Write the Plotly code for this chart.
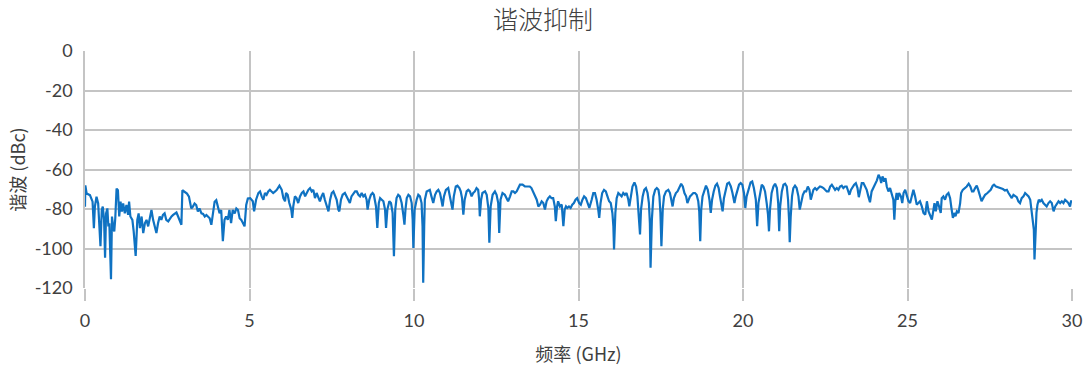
import plotly.graph_objects as go

# Frequency (GHz) and harmonic level (dBc)
freq_0_5 = [0.00, 0.01, 0.05, 0.15, 0.23, 0.27, 0.30, 0.35, 0.40, 0.47, 0.51, 0.54, 0.58, 0.61, 0.64, 0.68, 0.71, 0.74, 0.79, 0.82,
            0.86, 0.89, 0.92, 0.96, 1.00, 1.04, 1.08, 1.12, 1.16, 1.21, 1.26, 1.31, 1.34, 1.38, 1.44, 1.48, 1.54, 1.59, 1.63, 1.67,
            1.72, 1.77, 1.82, 1.87, 1.92, 1.97, 2.02, 2.07, 2.12, 2.17, 2.22, 2.27, 2.32, 2.37, 2.42, 2.47, 2.53, 2.58, 2.63, 2.68,
            2.73, 2.78, 2.83, 2.88, 2.93, 2.96, 3.03, 3.10, 3.16, 3.23, 3.28, 3.33, 3.38, 3.43, 3.48, 3.54, 3.59, 3.64, 3.69, 3.74,
            3.79, 3.84, 3.89, 3.94, 3.99, 4.04, 4.09, 4.14, 4.19, 4.24, 4.29, 4.34, 4.39, 4.44, 4.49, 4.55, 4.60, 4.65, 4.70, 4.75,
            4.80, 4.85, 4.90, 4.95]
level_0_5 = [-78.8, -68.0, -72.2, -73.0, -76.3, -89.7, -78.8, -73.8, -77.2, -98.8, -80.5, -78.8, -85.5, -104.7, -82.2, -79.7, -88.8, -87.2, -115.5, -83.8,
             -89.7, -91.3, -84.7, -69.7, -70.5, -83.8, -76.3, -81.3, -77.2, -82.2, -78.0, -83.0, -76.3, -83.8, -85.5, -91.3, -103.8, -85.5, -82.2, -89.7,
             -83.8, -92.2, -87.2, -85.5, -88.8, -83.8, -80.5, -85.5, -88.8, -92.2, -87.2, -83.8, -85.5, -83.0, -82.2, -85.5, -86.3, -84.7, -83.8, -83.0,
             -82.2, -81.8, -83.8, -85.5, -88.0, -70.5, -71.3, -72.2, -73.8, -79.7, -78.8, -77.2, -78.0, -81.3, -79.7, -82.2, -82.5, -83.8, -83.0, -83.8,
             -84.7, -88.0, -82.2, -76.3, -75.5, -78.8, -82.2, -80.5, -96.3, -85.5, -83.8, -85.5, -80.5, -87.2, -80.5, -82.2, -79.7, -80.5, -84.7, -85.5,
             -87.2, -88.8, -78.0, -74.7]

freq_5_10 = [5.02, 5.10, 5.14, 5.20, 5.27, 5.32, 5.37, 5.42, 5.47, 5.52, 5.57, 5.62, 5.67, 5.72, 5.78, 5.83, 5.91, 5.98, 6.03, 6.08,
             6.11, 6.16, 6.21, 6.27, 6.30, 6.33, 6.38, 6.43, 6.48, 6.535, 6.59, 6.64, 6.69, 6.74, 6.79, 6.84, 6.89, 6.94, 6.99, 7.04,
             7.09, 7.14, 7.19, 7.24, 7.29, 7.35, 7.40, 7.45, 7.50, 7.55, 7.60, 7.65, 7.70, 7.73, 7.78, 7.83, 7.90, 7.95, 8.00, 8.05,
             8.10, 8.16, 8.21, 8.26, 8.31, 8.36, 8.41, 8.46, 8.51, 8.56, 8.59, 8.64, 8.69, 8.74, 8.78, 8.845, 8.885, 8.93, 8.97, 9.02,
             9.07, 9.12, 9.15, 9.19, 9.25, 9.30, 9.35, 9.39, 9.43, 9.47, 9.52, 9.57, 9.625, 9.675, 9.71, 9.74, 9.78, 9.83, 9.88, 9.93,
             9.96, 9.98, 10.02, 10.08, 10.13, 10.18, 10.23, 10.26, 10.28, 10.31, 10.33, 10.385, 10.435]
level_5_10 = [-74.5, -76.1, -81.2, -75.3, -71.9, -71.1, -73.6, -75.3, -71.9, -72.8, -71.1, -70.3, -71.1, -71.9, -71.1, -70.3, -68.2, -70.3, -74.5, -76.1,
              -71.9, -72.8, -77.0, -80.3, -84.5, -78.7, -73.6, -74.5, -77.0, -73.6, -71.9, -71.1, -73.6, -71.9, -70.3, -69.4, -71.1, -70.3, -74.5, -71.9,
              -73.6, -76.1, -73.6, -71.9, -75.3, -78.7, -81.2, -75.3, -71.9, -71.1, -72.8, -75.3, -80.3, -81.2, -75.3, -72.8, -71.9, -73.6, -76.1, -77.0,
              -73.6, -71.9, -71.1, -71.1, -72.8, -73.6, -71.9, -73.6, -72.8, -75.3, -80.3, -75.3, -72.8, -71.9, -72.8, -78.7, -89.6, -77.0, -74.5, -75.3,
              -76.1, -80.3, -89.6, -80.3, -76.1, -77.0, -82.0, -103.9, -80.3, -74.5, -72.8, -73.6, -77.0, -82.9, -87.9, -80.3, -74.5, -72.8, -73.6, -77.0,
              -85.4, -99.7, -80.3, -75.3, -72.8, -73.6, -77.0, -88.7, -117.3, -88.7, -75.3, -71.1, -70.6]

freq_10_15 = [10.48, 10.53, 10.585, 10.64, 10.69, 10.74, 10.79, 10.84, 10.87, 10.91, 10.97, 11.04, 11.09, 11.14, 11.17, 11.21, 11.27, 11.32, 11.38, 11.42,
              11.46, 11.50, 11.54, 11.60, 11.65, 11.70, 11.75, 11.80, 11.85, 11.90, 11.95, 11.98, 12.00, 12.04, 12.08, 12.16, 12.21, 12.26, 12.29, 12.33,
              12.39, 12.46, 12.51, 12.56, 12.59, 12.63, 12.69, 12.76, 12.81, 12.86, 12.92, 12.97, 13.02, 13.07, 13.12, 13.17, 13.22, 13.30, 13.37, 13.44,
              13.52, 13.57, 13.62, 13.68, 13.73, 13.78, 13.83, 13.88, 13.93, 13.98, 14.03, 14.08, 14.13, 14.18, 14.23, 14.28, 14.31, 14.35, 14.38, 14.435,
              14.49, 14.54, 14.58, 14.62, 14.66, 14.71, 14.76, 14.81, 14.86, 14.91, 14.96, 15.02, 15.07, 15.12, 15.17, 15.225, 15.28, 15.33]
level_10_15 = [-70.3, -73.6, -77.0, -72.8, -71.1, -70.3, -71.9, -76.1, -78.7, -73.6, -70.3, -69.4, -73.6, -78.7, -80.3, -73.6, -68.6, -68.2, -69.4, -71.1,
               -74.5, -82.9, -75.3, -71.1, -70.3, -71.1, -73.6, -71.9, -71.1, -69.4, -70.3, -75.3, -83.7, -75.3, -71.9, -71.1, -72.8, -79.5, -97.1, -78.7,
               -72.8, -71.1, -72.8, -77.0, -92.1, -75.3, -71.9, -72.8, -74.5, -76.1, -73.6, -71.1, -71.1, -71.9, -71.1, -69.4, -67.7, -67.7, -68.6, -68.6,
               -68.6, -69.4, -71.1, -73.6, -75.3, -78.7, -77.8, -76.1, -77.0, -80.3, -76.1, -74.5, -73.6, -74.5, -74.5, -78.7, -86.2, -78.7, -76.1, -78.7,
               -77.8, -88.7, -80.3, -78.7, -79.5, -78.7, -79.5, -77.8, -77.0, -75.3, -74.5, -77.0, -77.8, -75.3, -73.6, -74.5, -77.0, -79.5]

freq_15_20 = [15.40, 15.45, 15.50, 15.55, 15.60, 15.63, 15.67, 15.72, 15.775, 15.83, 15.88, 15.93, 15.98, 16.03, 16.06, 16.08, 16.12, 16.16, 16.21, 16.26,
              16.31, 16.36, 16.41, 16.46, 16.515, 16.545, 16.585, 16.64, 16.70, 16.75, 16.79, 16.83, 16.87, 16.90, 16.95, 17.00, 17.05, 17.10, 17.14, 17.17,
              17.19, 17.23, 17.275, 17.33, 17.38, 17.43, 17.46, 17.49, 17.52, 17.56, 17.60, 17.66, 17.73, 17.78, 17.83, 17.86, 17.90, 17.96, 18.01, 18.065,
              18.12, 18.17, 18.22, 18.27, 18.31, 18.35, 18.39, 18.44, 18.49, 18.54, 18.59, 18.64, 18.67, 18.70, 18.73, 18.77, 18.825, 18.875, 18.93, 18.98,
              19.02, 19.06, 19.11, 19.16, 19.21, 19.26, 19.30, 19.34, 19.38, 19.42, 19.47, 19.52, 19.575, 19.63, 19.68, 19.71, 19.74, 19.78, 19.83, 19.88,
              19.93, 19.98, 20.03, 20.07, 20.11, 20.17, 20.23, 20.28, 20.33, 20.39, 20.43, 20.47, 20.52]
level_15_20 = [-75.3, -71.9, -71.9, -75.3, -80.3, -84.5, -77.0, -71.9, -70.3, -71.1, -73.6, -76.1, -77.0, -82.0, -88.7, -100.5, -82.0, -74.5, -71.9, -72.8,
               -73.6, -71.9, -72.8, -71.9, -75.3, -78.7, -73.6, -68.6, -66.6, -68.6, -73.6, -82.0, -92.9, -80.3, -73.6, -70.3, -69.4, -71.9, -77.0, -87.1,
               -109.7, -85.4, -73.6, -70.3, -69.4, -70.3, -73.6, -82.0, -98.8, -80.3, -73.6, -71.1, -70.3, -71.9, -76.1, -78.7, -74.5, -71.9, -71.1, -68.6,
               -67.2, -68.6, -71.9, -73.6, -77.0, -75.3, -73.6, -72.8, -71.9, -71.9, -72.8, -76.1, -81.2, -96.3, -80.3, -73.6, -70.3, -68.2, -70.3, -75.3,
               -82.0, -75.3, -71.1, -68.2, -67.2, -69.4, -73.6, -77.0, -81.2, -74.5, -70.3, -67.2, -66.6, -68.6, -71.9, -74.5, -77.0, -73.6, -70.3, -67.7,
               -66.9, -67.7, -71.9, -79.5, -73.6, -69.4, -66.6, -66.1, -69.4, -75.3, -88.7, -77.0, -71.9]

freq_20_25 = [20.57, 20.62, 20.67, 20.72, 20.76, 20.79, 20.82, 20.87, 20.925, 20.975, 21.03, 21.07, 21.10, 21.13, 21.18, 21.23, 21.28, 21.33, 21.37, 21.40,
              21.42, 21.45, 21.49, 21.53, 21.58, 21.63, 21.685, 21.725, 21.77, 21.82, 21.87, 21.92, 21.97, 22.02, 22.06, 22.10, 22.14, 22.19, 22.24, 22.29,
              22.34, 22.39, 22.445, 22.495, 22.545, 22.60, 22.65, 22.70, 22.75, 22.80, 22.85, 22.90, 22.95, 23.00, 23.05, 23.10, 23.15, 23.205, 23.235, 23.28,
              23.33, 23.38, 23.43, 23.48, 23.52, 23.56, 23.61, 23.66, 23.71, 23.76, 23.81, 23.86, 23.91, 23.965, 24.015, 24.07, 24.12, 24.17, 24.20, 24.24,
              24.29, 24.33, 24.37, 24.42, 24.47, 24.52, 24.57, 24.60, 24.63, 24.67, 24.70, 24.745, 24.80, 24.84, 24.88, 24.93, 24.98, 25.03, 25.08]
level_20_25 = [-67.7, -68.6, -71.1, -77.0, -82.9, -91.3, -80.3, -71.9, -68.6, -67.2, -69.4, -77.0, -91.3, -78.7, -71.1, -67.7, -67.2, -68.6, -75.3, -85.4,
               -96.8, -83.7, -73.6, -69.4, -68.2, -69.4, -73.6, -80.3, -76.1, -72.8, -71.1, -71.1, -68.6, -70.3, -75.3, -71.9, -70.3, -69.4, -70.3, -69.4,
               -68.6, -68.9, -69.4, -70.3, -71.1, -71.1, -68.6, -67.7, -68.9, -70.3, -69.4, -70.3, -68.6, -68.2, -69.4, -68.6, -68.6, -71.1, -72.8, -70.3,
               -68.6, -67.7, -66.9, -69.4, -74.0, -71.1, -66.9, -66.9, -68.6, -70.3, -73.6, -76.6, -71.1, -69.4, -67.7, -65.5, -62.7, -64.4, -66.9, -63.5,
               -66.1, -64.4, -68.6, -71.1, -69.4, -72.8, -75.3, -85.4, -76.1, -71.9, -75.3, -71.9, -73.6, -77.0, -71.9, -70.3, -72.8, -76.1, -77.0]

freq_25_30 = [25.13, 25.18, 25.23, 25.28, 25.33, 25.38, 25.435, 25.485, 25.54, 25.59, 25.64, 25.69, 25.74, 25.79, 25.82, 25.86, 25.91, 25.96, 26.01, 26.04,
              26.09, 26.14, 26.19, 26.245, 26.295, 26.335, 26.38, 26.42, 26.46, 26.50, 26.55, 26.60, 26.63, 26.68, 26.75, 26.80, 26.86, 26.91, 26.96, 27.005,
              27.055, 27.105, 27.15, 27.20, 27.25, 27.30, 27.36, 27.43, 27.48, 27.53, 27.59, 27.63, 27.69, 27.76, 27.84, 27.90, 27.96, 28.02, 28.07, 28.12,
              28.17, 28.22, 28.27, 28.32, 28.37, 28.42, 28.47, 28.525, 28.575, 28.625, 28.68, 28.73, 28.77, 28.81, 28.84, 28.86, 28.89, 28.92, 28.95, 28.99,
              29.03, 29.08, 29.13, 29.18, 29.23, 29.285, 29.335, 29.385, 29.44, 29.49, 29.54, 29.59, 29.64, 29.69, 29.74, 29.79, 29.84, 29.89, 29.94, 29.97,
              30.00]
level_25_30 = [-72.8, -70.3, -73.6, -77.8, -77.0, -76.1, -78.7, -82.0, -82.9, -76.1, -81.2, -82.9, -85.4, -80.3, -77.0, -81.2, -76.1, -78.7, -82.0, -74.5,
               -73.6, -75.3, -72.8, -71.9, -74.5, -79.5, -84.5, -82.0, -83.7, -81.2, -82.0, -77.0, -71.9, -70.3, -69.4, -68.6, -67.2, -68.6, -71.1, -71.1,
               -69.4, -68.2, -70.3, -72.8, -76.1, -74.5, -72.8, -71.9, -71.1, -70.3, -68.2, -67.7, -68.6, -68.9, -69.4, -69.9, -70.6, -70.3, -71.9, -73.6,
               -74.5, -72.8, -73.6, -74.0, -76.1, -77.0, -74.5, -73.6, -71.9, -72.8, -73.6, -75.3, -80.3, -84.5, -90.4, -105.5, -87.1, -82.0, -77.8, -75.3,
               -76.1, -75.3, -77.0, -77.8, -78.7, -77.0, -76.1, -77.0, -81.2, -78.7, -77.0, -76.1, -77.0, -76.1, -77.0, -75.3, -76.1, -77.0, -78.7, -76.1,
               -76.1]

freq = freq_0_5 + freq_5_10 + freq_10_15 + freq_15_20 + freq_20_25 + freq_25_30
level = level_0_5 + level_5_10 + level_10_15 + level_15_20 + level_20_25 + level_25_30

x_ticks = [0, 5, 10, 15, 20, 25, 30]
y_ticks = [0, -20, -40, -60, -80, -100, -120]

title_text = "谐波抑制"
x_title = "频率 (GHz)"
y_title = "谐波 (dBc)"

FONT = "Lato, 'Noto Sans CJK SC', sans-serif"
CJK = "'Noto Sans CJK SC', Lato, sans-serif"

fig = go.Figure()
fig.add_trace(go.Scatter(
    x=freq, y=level, mode="lines",
    line=dict(color="#0f72c2", width=2.2),
    showlegend=False,
))

fig.update_layout(
    width=1086, height=368,
    margin=dict(l=85, r=14, t=51, b=80, autoexpand=False),
    paper_bgcolor="white", plot_bgcolor="white",
    title=dict(text=title_text, x=0.5, xanchor="center", y=0.945, yanchor="middle",
               font=dict(family=CJK, size=25, color="#404040", weight=300)),
    font=dict(family=FONT, color="#404040"),
)
fig.update_xaxes(
    range=[0, 30], tickvals=x_ticks, ticktext=[str(v) for v in x_ticks],
    automargin=False,
    showgrid=True, gridcolor="#c4c4c4", gridwidth=1.5,
    showline=False, zeroline=False,
    ticks="outside", ticklen=12, tickcolor="#c4c4c4", tickwidth=1.5,
    ticklabelstandoff=4,
    tickfont=dict(family=FONT, size=18, color="#404040"),
    title=dict(text=x_title, font=dict(family=CJK, size=18, color="#404040"), standoff=18),
)
fig.update_yaxes(
    range=[-120, 0], tickvals=y_ticks, ticktext=[str(v) for v in y_ticks],
    automargin=False,
    showgrid=True, gridcolor="#c4c4c4", gridwidth=1.5,
    showline=True, linecolor="#c4c4c4", linewidth=1.5,
    zeroline=False, ticks="", ticklabelstandoff=7,
    tickfont=dict(family=FONT, size=18, color="#404040"),
    title=dict(text=y_title, font=dict(family=CJK, size=18, color="#404040"), standoff=4),
)

fig.write_html("out.html")
